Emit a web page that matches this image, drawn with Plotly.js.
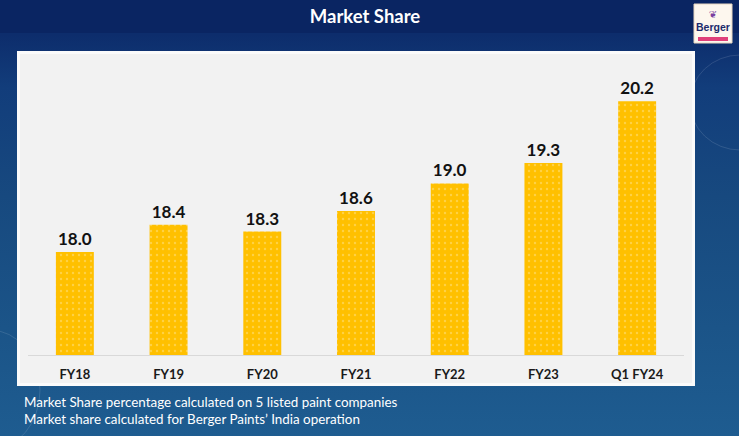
<!DOCTYPE html>
<html>
<head>
<meta charset="utf-8">
<script src="https://cdn.plot.ly/plotly-3.0.1.min.js"></script>
<style>
  html, body { margin: 0; padding: 0; }
  #chart {
    width: 739px; height: 436px;
    background: linear-gradient(180deg, #0b2766 0%, #0d2d6c 8%, #123d7b 20%, #17497f 45%, #1b5488 75%, #1e5c90 100%);
  }
</style>
</head>
<body>
<div id="chart"></div>
<script>
const categories = ["FY18", "FY19", "FY20", "FY21", "FY22", "FY23", "Q1 FY24"];
const marketShare = [18.0, 18.4, 18.3, 18.6, 19.0, 19.3, 20.2];
const valueLabels = ["18.0", "18.4", "18.3", "18.6", "19.0", "19.3", "20.2"];
const chartTitle = "Market Share";
const footnotes = [
  "Market Share percentage calculated on 5 listed paint companies",
  "Market share calculated for Berger Paints\u2019 India operation"
];

const W = 739, H = 436;
const mL = 28, mR = 55, mT = 60, mB = 81;
const pw = W - mL - mR, ph = H - mT - mB;
const px = x => (x - mL) / pw;
const py = y => (H - mB - y) / ph;

const trace = {
  type: "bar",
  x: categories,
  y: marketShare,
  text: valueLabels,
  textposition: "outside",
  cliponaxis: false,
  textfont: { family: "Lato, 'Open Sans', sans-serif", size: 17, color: "#111111", weight: "bold" },
  width: 0.405,
  marker: {
    color: "#ffc000",
    line: { width: 0 },
    pattern: { shape: ".", fgcolor: "rgba(255,255,255,0.55)", size: 6, solidity: 0.12, fillmode: "overlay" }
  },
  hoverinfo: "skip"
};

const shapes = [
  // header band
  { type: "rect", xref: "paper", yref: "paper", x0: px(0), x1: px(W), y0: py(33), y1: py(0),
    fillcolor: "#0a2562", line: { width: 0 }, layer: "below" },
  // decorative arcs
  { type: "circle", xref: "paper", yref: "paper", x0: px(690), x1: px(790), y0: py(150), y1: py(55),
    fillcolor: "rgba(0,0,0,0)", line: { color: "rgba(255,255,255,0.12)", width: 1 }, layer: "below" },
  { type: "circle", xref: "paper", yref: "paper", x0: px(-60), x1: px(40), y0: py(450), y1: py(330),
    fillcolor: "rgba(0,0,0,0)", line: { color: "rgba(255,255,255,0.12)", width: 1 }, layer: "below" },
  // white chart panel
  { type: "rect", xref: "paper", yref: "paper", x0: px(17), x1: px(695), y0: py(386), y1: py(51),
    fillcolor: "#fbfbfb", line: { width: 0 }, layer: "below" },
  { type: "rect", xref: "paper", yref: "paper", x0: px(20), x1: px(692), y0: py(383), y1: py(54),
    fillcolor: "#f2f2f2", line: { width: 0 }, layer: "below" },
  // logo box
  { type: "rect", xref: "paper", yref: "paper", x0: px(694), x1: px(732), y0: py(43), y1: py(4),
    fillcolor: "#fdf7ee", line: { color: "#e7d7c0", width: 1 }, layer: "above" },
  { type: "rect", xref: "paper", yref: "paper", x0: px(698), x1: px(728), y0: py(41), y1: py(37),
    fillcolor: "#e0407a", line: { width: 0 }, layer: "above" }
];

const annotations = [
  { xref: "paper", yref: "paper", x: px(22), y: py(410), xanchor: "left", yanchor: "middle",
    align: "left",
    text: footnotes.join("<br>"), showarrow: false,
    font: { family: "Lato, 'Open Sans', sans-serif", size: 13.4, color: "#ffffff" } },
  { xref: "paper", yref: "paper", x: px(713), y: py(27), xanchor: "center", yanchor: "middle",
    text: "<b>Berger</b>", showarrow: false,
    font: { family: "Liberation Sans Narrow, Liberation Sans, sans-serif", size: 10.5, color: "#1b2a6b" } },
  { xref: "paper", yref: "paper", x: px(713), y: py(14), xanchor: "center", yanchor: "middle",
    text: "\u2766", showarrow: false,
    font: { family: "DejaVu Sans, sans-serif", size: 10, color: "#7a3fa0" } }
];

const layout = {
  width: W, height: H,
  margin: { l: mL, r: mR, t: mT, b: mB, pad: 0 },
  paper_bgcolor: "rgba(0,0,0,0)",
  plot_bgcolor: "rgba(0,0,0,0)",
  showlegend: false,
  title: {
    text: "<b>" + chartTitle + "</b>",
    x: 365 / W, xanchor: "center", xref: "container",
    y: 1 - 17 / H, yanchor: "middle", yref: "container",
    font: { family: "Lato, 'Open Sans', sans-serif", size: 18.5, color: "#ffffff" }
  },
  xaxis: {
    type: "category",
    showline: true, linecolor: "#d9d9d9", linewidth: 1,
    showgrid: false, zeroline: false, ticks: "",
    ticklabelstandoff: 7,
    tickfont: { family: "Lato, 'Open Sans', sans-serif", size: 13, color: "#1a1a1a", weight: "bold" },
    fixedrange: true
  },
  yaxis: {
    range: [16.5, 20.8],
    visible: false, showgrid: false, zeroline: false, fixedrange: true
  },
  shapes: shapes,
  annotations: annotations,
  bargap: 0.595
};

Plotly.newPlot("chart", [trace], layout, { displayModeBar: false, staticPlot: true });
</script>
</body>
</html>
